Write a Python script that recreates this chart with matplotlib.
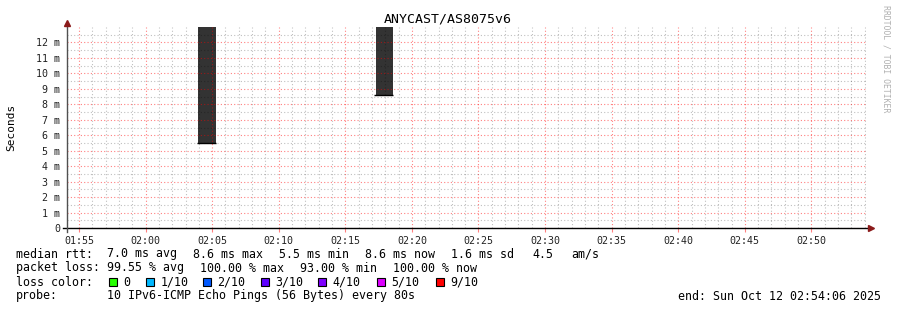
import matplotlib
matplotlib.use("Agg")
from matplotlib import pyplot as plt
from matplotlib.patches import Rectangle

# ---- data ----
title = "ANYCAST/AS8075v6"
t_start = "01:54:06"
t_end = "02:54:06"
step_s = 80
bar_starts = ["02:03:56", "02:17:16"]
median_ms = [5.5, 8.6]
smoke_top_ms = [15.0, 15.0]          # runs off the top of the graph
xtick_labels = ["01:55", "02:00", "02:05", "02:10", "02:15", "02:20", "02:25",
                "02:30", "02:35", "02:40", "02:45", "02:50"]
ytick_values = [0, 1, 2, 3, 4, 5, 6, 7, 8, 9, 10, 11, 12]
ytick_labels = ["0"] + [f"{v} m" for v in ytick_values[1:]]
y_max = 13.0

rtt_stats = ["7.0 ms avg", "8.6 ms max", "5.5 ms min", "8.6 ms now", "1.6 ms sd", "4.5", "am/s"]
loss_stats = ["99.55 % avg", "100.00 % max", "93.00 % min", "100.00 % now"]
loss_labels = ["0", "1/10", "2/10", "3/10", "4/10", "5/10", "9/10"]
loss_colors = ["#26ff00", "#00b8ff", "#0059ff", "#5e00ff", "#7e00ff", "#dd00ff", "#ff0000"]
probe_text = "10 IPv6-ICMP Echo Pings (56 Bytes) every 80s"
end_text = "end: Sun Oct 12 02:54:06 2025"

W, H = 897, 310
MONO = "DejaVu Sans Mono"
plt.rcParams['font.family'] = [MONO]


def to_min(s):
    h, m, sec = (int(v) for v in s.split(":"))
    return h * 60 + m + sec / 60.0


def fx(x):
    return x / W


def fy(y):
    return 1 - y / H


fig = plt.figure(figsize=(W / 100, H / 100), dpi=100)
fig.patch.set_facecolor("white")

L, R, T, B = 67, 866, 27, 228
ax = fig.add_axes([fx(L), fy(B), (R - L) / W, (B - T) / H])
ax.set_facecolor("white")

x0, x1 = to_min(t_start), to_min(t_end)
ax.set_xlim(x0, x1)
ax.set_ylim(0, y_max)

# smoke bars + median line
starts = [to_min(s) for s in bar_starts]
w = step_s / 60.0
ax.bar(starts, [t - m for t, m in zip(smoke_top_ms, median_ms)], bottom=median_ms,
       width=w, align='edge', color="#333333", linewidth=0, zorder=1)
for s, m in zip(starts, median_ms):
    ax.hlines(m, s - 0.08, s + w, color="black", linewidth=1.0, zorder=1.5)

# grid
xt = [to_min(t + ":00") for t in xtick_labels]
ax.set_xticks(xt)
ax.set_xticklabels(xtick_labels, fontsize=7.2, color="#222222")
minor_x = [x for x in range(int(x0) + 1, int(x1) + 1)]
ax.set_xticks(minor_x, minor=True)
ax.set_yticks(ytick_values)
ax.set_yticklabels(ytick_labels, fontsize=7.2, color="#222222")
ax.set_yticks([v + 0.5 for v in ytick_values], minor=True)

ax.set_axisbelow(False)
ax.grid(which='minor', color="black", alpha=0.25, linestyle=(0, (1, 2)), linewidth=0.8)
ax.grid(which='major', color="red", alpha=0.5, linestyle=(0, (1, 2)), linewidth=0.8)
ax.tick_params(axis='x', which='major', length=3, color="#ff8080", pad=3, direction='out')
ax.tick_params(axis='x', which='minor', length=0)
ax.tick_params(axis='y', which='both', length=0, pad=5)

for sp in ax.spines.values():
    sp.set_visible(False)


# axis lines + arrows, in pixel terms
def ax_frac(px, py):
    return (px - L) / (R - L), (B - py) / (B - T)


xa = [ax_frac(63, B), ax_frac(869, B)]
ax.plot([xa[0][0], xa[1][0]], [xa[0][1], xa[1][1]], transform=ax.transAxes,
        color="black", linewidth=1.0, clip_on=False, zorder=5)
ya = [ax_frac(L, 232), ax_frac(L, 25)]
ax.plot([ya[0][0], ya[1][0]], [ya[0][1], ya[1][1]], transform=ax.transAxes,
        color="#505050", linewidth=1.0, clip_on=False, zorder=5)
ax.plot(*ax_frac(871, B), marker='>', markersize=5, color="#8b1a1a",
        transform=ax.transAxes, clip_on=False, zorder=6)
ax.plot(*ax_frac(L, 23), marker='^', markersize=5, color="#8b1a1a",
        transform=ax.transAxes, clip_on=False, zorder=6)

# title and side texts
fig.text(fx(448), fy(19), title, ha='center', va='center', fontsize=9.5, color="black")
fig.text(fx(11), fy(127), "Seconds", rotation=90, ha='center', va='center', fontsize=8)
fig.text(fx(886), fy(5), "RRDTOOL / TOBI OETIKER", rotation=270, ha='center', va='top',
         fontsize=5.9, color="#b0b0b0")

# legend rows
fs = 8.4
rows_y = [254, 268, 282, 296]
fig.text(fx(16), fy(rows_y[0]), "median rtt:", va='center', fontsize=fs)
for xp, s in zip([107.3, 193.3, 279.3, 365, 450.7, 532.7, 571.7], rtt_stats):
    fig.text(fx(xp), fy(rows_y[0]), s, va='center', fontsize=fs)

fig.text(fx(16), fy(rows_y[1]), "packet loss:", va='center', fontsize=fs)
for xp, s in zip([107.3, 200, 300, 392.7], loss_stats):
    fig.text(fx(xp), fy(rows_y[1]), s, va='center', fontsize=fs)

fig.text(fx(16), fy(rows_y[2]), "loss color:", va='center', fontsize=fs)
box_x = [108.7, 145.7, 202.7, 260.7, 318.3, 376.7, 435.7]
for bx, lab, col in zip(box_x, loss_labels, loss_colors):
    fig.patches.append(Rectangle((fx(bx), fy(rows_y[2] + 4)), 8 / W, 8 / H,
                                 transform=fig.transFigure, facecolor=col,
                                 edgecolor="black", linewidth=0.8))
    fig.text(fx(bx + 14.5), fy(rows_y[2]), lab, va='center', fontsize=fs)

fig.text(fx(16), fy(rows_y[3]), "probe:", va='center', fontsize=fs)
fig.text(fx(107.3), fy(rows_y[3]), probe_text, va='center', fontsize=fs)
fig.text(fx(881), fy(rows_y[3]), end_text, va='center', ha='right', fontsize=fs)

fig.savefig("out.png", dpi=100, facecolor="white")
